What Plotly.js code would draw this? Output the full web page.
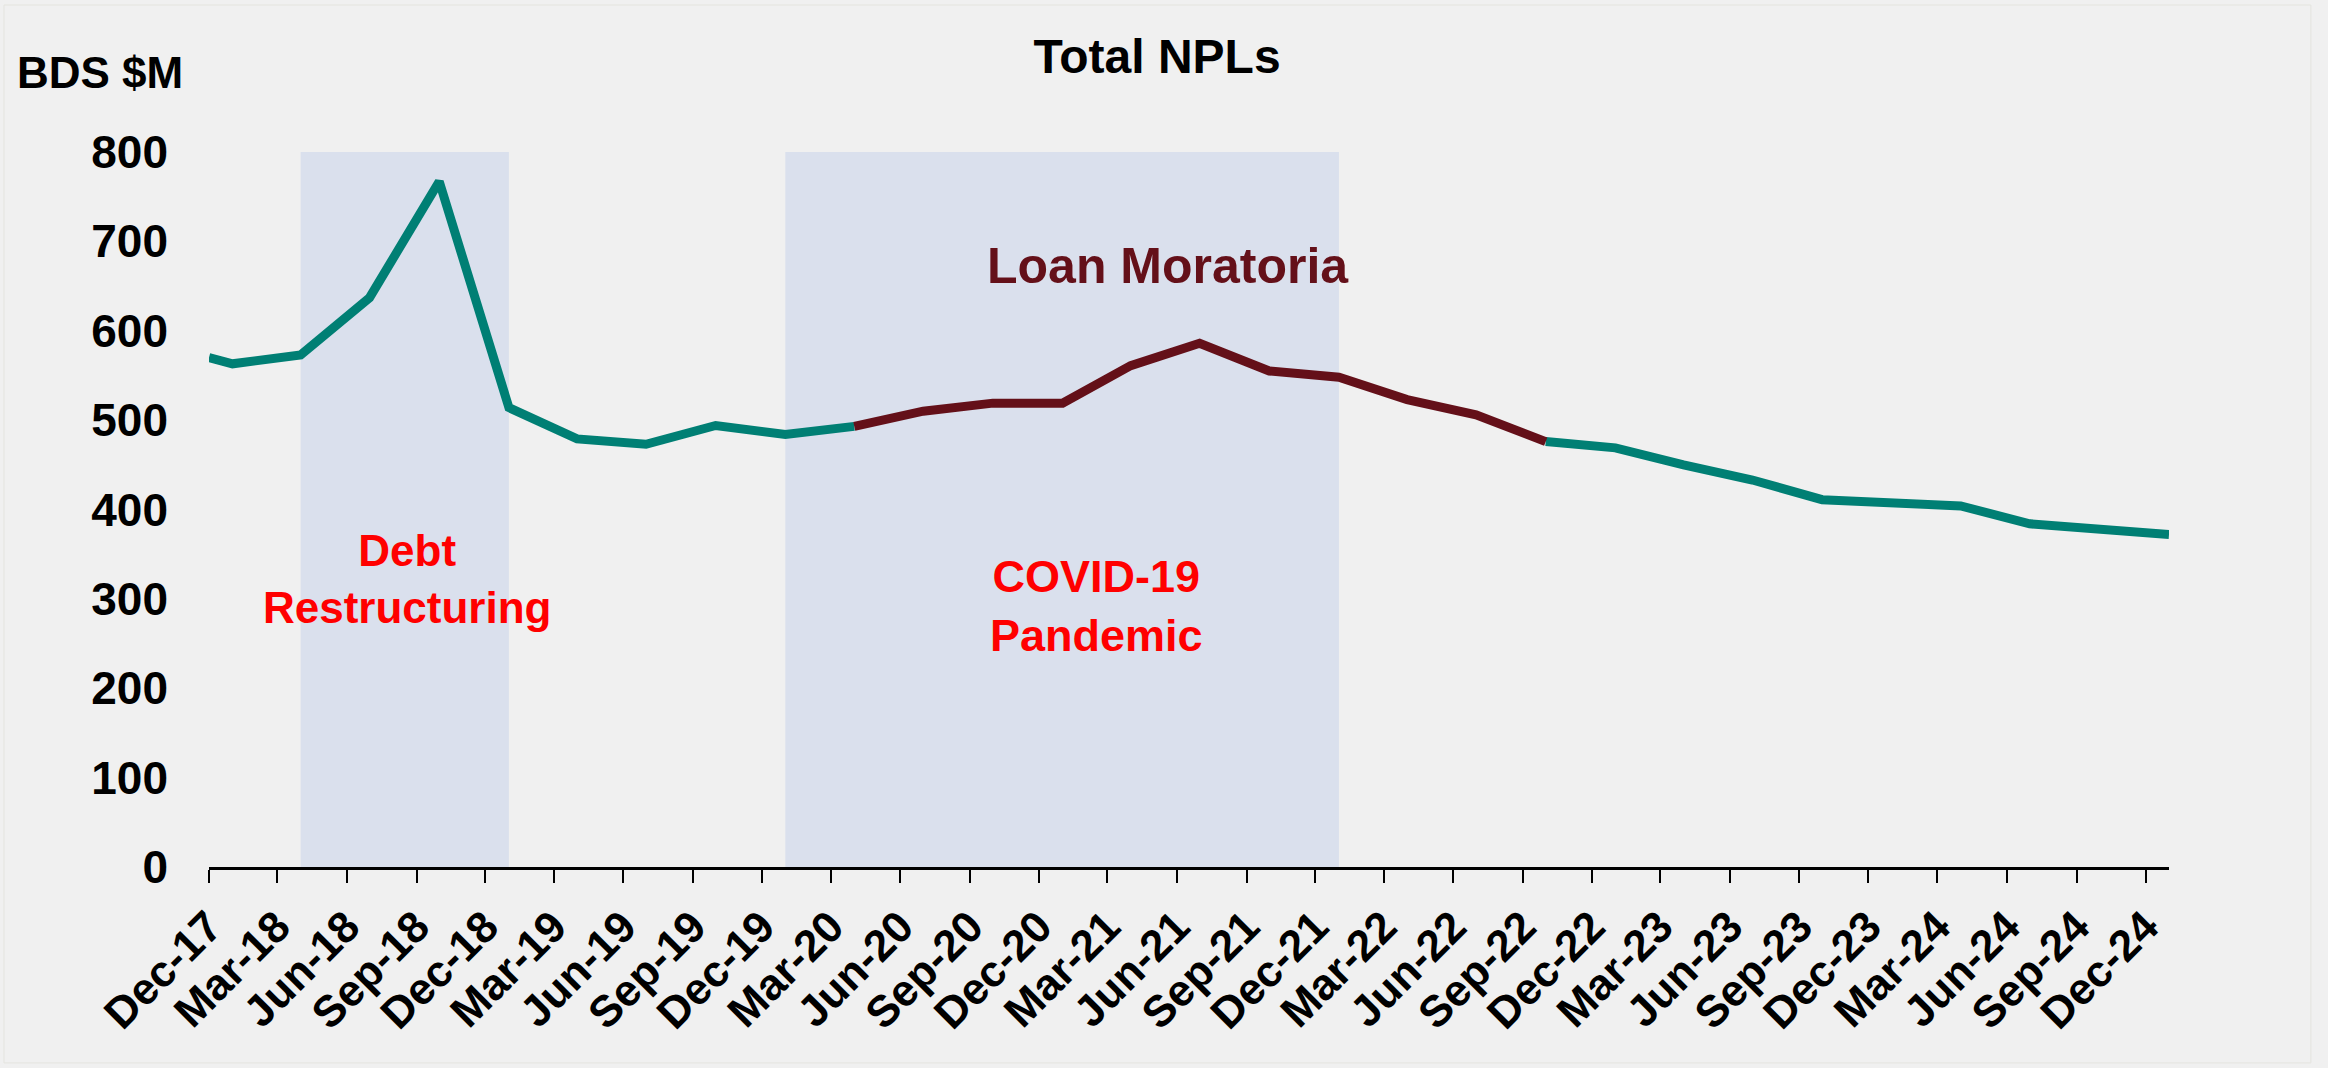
<!DOCTYPE html>
<html>
<head>
<meta charset="utf-8">
<script src="https://cdn.plot.ly/plotly-3.0.1.min.js"></script>
<style>
  html, body { margin: 0; padding: 0; background: #F0F0F0; }
  #chart { width: 2328px; height: 1068px; }
</style>
</head>
<body>
<div id="chart"></div>
<script>
// ---- Data ----
const dates = [
  '2017-12-01','2018-01-01','2018-04-01','2018-07-01','2018-10-01',
  '2019-01-01','2019-04-01','2019-07-01','2019-10-01',
  '2020-01-01','2020-04-01','2020-07-01','2020-10-01',
  '2021-01-01','2021-04-01','2021-07-01','2021-10-01',
  '2022-01-01','2022-04-01','2022-07-01','2022-10-01',
  '2023-01-01','2023-04-01','2023-07-01','2023-10-01',
  '2024-01-01','2024-04-01','2024-07-01','2024-10-01',
  '2025-01-01'
];
const npls = [
  570, 563, 573, 637, 767,
  514, 479, 473, 494,
  484, 493, 510, 519,
  519, 561, 586, 555,
  548, 523, 506, 476,
  469, 450, 433, 411,
  408, 404, 384, 378,
  372
];
const moratoriaStart = '2020-04-01';
const moratoriaEnd = '2022-10-01';
const shadePeriods = [
  { start: '2018-04-01', end: '2019-01-01' },
  { start: '2020-01-01', end: '2022-01-01' }
];
const yTicks = [0, 100, 200, 300, 400, 500, 600, 700, 800];

// ---- Build series ----
const iStart = dates.indexOf(moratoriaStart);
const iEnd = dates.indexOf(moratoriaEnd);
const TEAL = '#007F74';
const MAROON = '#641019';
const FONT = 'Liberation Sans, Arial, sans-serif';
const LW = 9;

const traces = [
  { x: dates.slice(0, iStart + 1), y: npls.slice(0, iStart + 1) },
  { x: dates.slice(iEnd), y: npls.slice(iEnd) }
].map(s => ({
  type: 'scatter', mode: 'lines', x: s.x, y: s.y,
  line: { color: TEAL, width: LW, shape: 'linear' },
  hoverinfo: 'x+y'
}));
traces.push({
  type: 'scatter', mode: 'lines',
  x: dates.slice(iStart, iEnd + 1), y: npls.slice(iStart, iEnd + 1),
  line: { color: MAROON, width: LW }, hoverinfo: 'x+y'
});

const shapes = shadePeriods.map(p => ({
  type: 'rect', xref: 'x', yref: 'y', x0: p.start, x1: p.end, y0: 0, y1: 800,
  fillcolor: '#DAE0ED', line: { width: 0 }, layer: 'below'
}));
shapes.push({
  type: 'rect', xref: 'paper', yref: 'paper',
  x0: -0.1046, x1: 1.0724, y0: -0.274, y1: 1.2056,
  line: { color: '#E4E4DF', width: 1 }, fillcolor: 'rgba(0,0,0,0)', layer: 'below'
});

const layout = {
  width: 2328, height: 1068,
  paper_bgcolor: '#F0F0F0', plot_bgcolor: '#F0F0F0',
  margin: { l: 209, r: 159, t: 152, b: 201 },
  showlegend: false,
  title: {
    text: '<b>Total NPLs</b>',
    font: { family: FONT, size: 48, color: '#000' },
    x: 0.497, xref: 'container', xanchor: 'center',
    y: 1 - 56 / 1068, yref: 'container', yanchor: 'middle'
  },
  xaxis: {
    type: 'date',
    range: ['2017-12-01', '2025-01-01'],
    tick0: '2017-12-01', dtick: 'M3', tickformat: '%b-%y',
    tickangle: -45,
    ticks: 'outside', ticklen: 13, tickwidth: 2, tickcolor: '#000',
    showline: true, linecolor: '#000', linewidth: 3,
    showgrid: false, zeroline: false,
    tickfont: { family: FONT, size: 44, color: '#000', weight: 'bold' }
  },
  yaxis: {
    range: [0, 800], tickvals: yTicks,
    ticks: '', showline: false, showgrid: false, zeroline: false,
    ticklabelstandoff: 40,
    tickfont: { family: FONT, size: 46, color: '#000', weight: 'bold' }
  },
  shapes: shapes,
  annotations: [
    {
      text: '<b>BDS $M</b>', xref: 'paper', yref: 'paper',
      x: (15 - 209) / 1960, y: (867 - 73) / 715,
      xanchor: 'left', yanchor: 'middle', showarrow: false,
      font: { family: FONT, size: 44, color: '#000' }
    },
    {
      text: '<b>Debt<br>Restructuring</b>', xref: 'x', yref: 'y',
      x: '2018-08-20', y: 322, xanchor: 'center', yanchor: 'middle', showarrow: false,
      font: { family: FONT, size: 44, color: '#FF0000' }
    },
    {
      text: '<b>COVID-19<br>Pandemic</b>', xref: 'x', yref: 'y',
      x: '2021-02-15', y: 292, xanchor: 'center', yanchor: 'middle', showarrow: false,
      font: { family: FONT, size: 45, color: '#FF0000' }
    },
    {
      text: '<b>Loan Moratoria</b>', xref: 'x', yref: 'y',
      x: '2021-05-20', y: 672, xanchor: 'center', yanchor: 'middle', showarrow: false,
      font: { family: FONT, size: 50, color: MAROON }
    }
  ]
};

Plotly.newPlot('chart', traces, layout, { staticPlot: true, displayModeBar: false });
</script>
</body>
</html>
